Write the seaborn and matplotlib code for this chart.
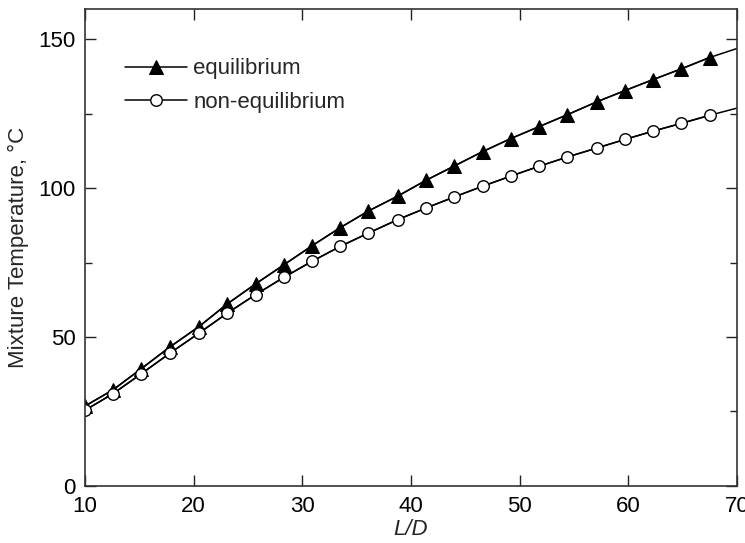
import matplotlib
matplotlib.use("Agg")
import matplotlib.pyplot as plt
import seaborn as sns
import pandas as pd
from matplotlib.ticker import MultipleLocator

# ---- data ----
ld = [10.0, 12.6, 15.2, 17.8, 20.5, 23.1, 25.7, 28.3, 30.9, 33.5, 36.1, 38.8,
      41.4, 44.0, 46.6, 49.2, 51.8, 54.4, 57.1, 59.7, 62.3, 64.9, 67.5, 70.0]
t_equilibrium = [26.8, 32.3, 39.4, 46.6, 53.5, 61.1, 67.8, 74.2, 80.6, 86.7, 92.3, 97.3,
                 102.6, 107.4, 112.2, 116.6, 120.6, 124.6, 128.9, 132.7, 136.4, 140.0, 143.8, 146.8]
t_nonequilibrium = [25.4, 31.0, 37.7, 44.5, 51.3, 58.0, 64.2, 70.0, 75.4, 80.4, 84.9, 89.4,
                    93.3, 97.0, 100.6, 104.0, 107.3, 110.4, 113.4, 116.3, 119.1, 121.7, 124.4, 126.8]
series_labels = ["equilibrium", "non-equilibrium"]
x_label = "L/D"
y_label = "Mixture Temperature, °C"

sns.set_theme(style="ticks")
plt.rcParams['font.family'] = ['Liberation Sans', 'DejaVu Sans']

df = pd.DataFrame({"LD": ld, "eq": t_equilibrium, "neq": t_nonequilibrium})
dfm = df.iloc[:-1]  # last point is the curve end, no marker

fig = plt.figure(figsize=(7.45, 5.43), dpi=100)
ax = fig.add_axes([0.114, 0.105, 0.875, 0.878])

# continuous curves
sns.lineplot(data=df, x="LD", y="eq", ax=ax, color="black", lw=1.1, legend=False)
sns.lineplot(data=df, x="LD", y="neq", ax=ax, color="black", lw=1.1, legend=False)
# marked points
sns.lineplot(data=dfm, x="LD", y="eq", ax=ax, color="black", lw=1.1, marker="^",
             markersize=9.5, markerfacecolor="black", markeredgecolor="black",
             label=series_labels[0])
sns.lineplot(data=dfm, x="LD", y="neq", ax=ax, color="black", lw=1.1, marker="o",
             markersize=8.3, markerfacecolor="white", markeredgecolor="black",
             markeredgewidth=1.0, label=series_labels[1])

ax.set_xlim(10, 70)
ax.set_ylim(0, 160)
ax.xaxis.set_major_locator(MultipleLocator(10))
ax.yaxis.set_major_locator(MultipleLocator(50))
ax.yaxis.set_minor_locator(MultipleLocator(25))

ax.tick_params(axis="both", which="both", direction="in", top=True, right=True,
               colors="#222222", labelcolor="black", labelsize=16, width=1.0)
ax.tick_params(axis="x", which="major", length=8, pad=7)
ax.tick_params(axis="y", which="major", length=8, pad=6.5)
ax.tick_params(axis="both", which="minor", length=5)
for s in ax.spines.values():
    s.set_color("#333333")
    s.set_linewidth(1.2)

ax.set_xlabel(x_label, fontsize=16, style="italic", labelpad=2)
ax.set_ylabel(y_label, fontsize=16, labelpad=7)

leg = ax.legend(loc="upper left", bbox_to_anchor=(0.0613, 0.897), frameon=False,
                fontsize=16, handlelength=2.8, handletextpad=0.27,
                labelspacing=0.55, borderpad=0, borderaxespad=0)

fig.savefig("out.png", dpi=100)
